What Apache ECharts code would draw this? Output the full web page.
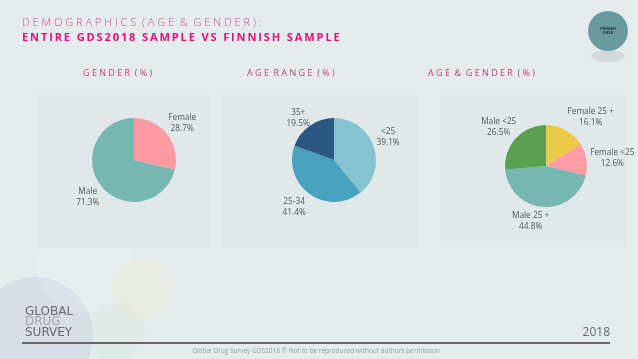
<!DOCTYPE html>
<html><head><meta charset="utf-8">
<script src="https://cdn.jsdelivr.net/npm/echarts@6/dist/echarts.min.js"></script>
<style>html,body{margin:0;padding:0;background:#e5ecee;}#c{width:638px;height:359px;}</style>
</head><body><div id="c"></div>
<script>
const genderCats = ['Female', 'Male'];
const genderVals = [28.7, 71.3];
const ageCats = ['<25', '25-34', '35+'];
const ageVals = [39.1, 41.4, 19.5];
const ageGenderCats = ['Female 25 +', 'Female <25', 'Male 25 +', 'Male <25'];
const ageGenderVals = [16.1, 12.6, 44.8, 26.5];

const genderColors = ['#fc9aa2', '#76b7b2'];
const ageColors = ['#85c3cf', '#48a2bf', '#2b5883'];
const agColors = ['#edc948', '#ff9da7', '#76b7b2', '#59a14f'];

const centers = [[134, 160], [334, 160], [546, 166]];
// fine label nudges (style only): [seriesIndex][dataIndex] -> [dx, dy]
const nudges = [[[0,0],[2,0]], [[-2,0],[-2,0],[2,5]], [[12,0],[9,6],[-3,0],[-2,0]]];

function mk(cats, vals, cols){ return cats.map((c,i)=>({name:c, value:vals[i], itemStyle:{color:cols[i]}})); }

const labelStyle = {
  show: true, position: 'outside', formatter: p => p.name + '\n' + p.value.toFixed(1) + '%',
  color: '#555', fontSize: 8.3, lineHeight: 11, fontFamily: 'Open Sans', overflow: 'none', bleedMargin: 0
};

function pieSeries(idx, r, data){
  return {
    type: 'pie', center: centers[idx], radius: r, startAngle: 90, clockwise: true,
    data: data, label: labelStyle, labelLine: {show: false, length: 8, length2: 4},
    emphasis: {disabled: true}, animation: false, silent: true,
    itemStyle: {borderWidth: 0},
    labelLayout: function(p){
      const r = p.labelRect;
      const ax = p.align === 'left' ? r.x : (p.align === 'right' ? r.x + r.width : r.x + r.width/2);
      const cy = r.y + r.height/2;
      const s = cy < centers[p.seriesIndex][1] ? -1 : 1;
      const n = nudges[p.seriesIndex][p.dataIndex];
      return {x: ax + n[0], y: cy + s*6 + n[1], align: 'center', verticalAlign: 'middle', hideOverlap: false};
    }
  };
}

function spaced(t){ return t.split('').join('\u2009'); }

const chart = echarts.init(document.getElementById('c'), null, {renderer: 'canvas'});
chart.setOption({
  backgroundColor: '#e5ecee',
  animation: false,
  graphic: [
    // decorative circles
    {type:'circle', shape:{cx:35, cy:335, r:58}, style:{fill:'rgba(195,195,215,0.35)'}, z:0},
    {type:'circle', shape:{cx:85, cy:265, r:48}, style:{fill:'rgba(255,255,255,0.12)'}, z:0},
    {type:'circle', shape:{cx:143, cy:290, r:31}, style:{fill:'rgba(240,235,200,0.3)'}, z:0},
    {type:'circle', shape:{cx:115, cy:332, r:30}, style:{fill:'rgba(210,230,215,0.25)'}, z:0},
    // panels
    {type:'rect', shape:{x:38, y:93, width:171, height:155}, style:{fill:'#e1e8ea'}, z:1},
    {type:'rect', shape:{x:222, y:93, width:195, height:155}, style:{fill:'#e1e8ea'}, z:1},
    {type:'rect', shape:{x:440, y:95, width:185, height:152}, style:{fill:'#e1e8ea'}, z:1},
    // titles
    {type:'text', x:22, y:17, style:{text:'D E M O G R A P H I C S  ( A G E  &  G E N D E R ) :', fill:'#d6488c', font:'300 11px "Open Sans"'}, z:5},
    {type:'text', x:22, y:32, style:{text:spaced('ENTIRE GDS2018 SAMPLE VS FINNISH SAMPLE'), fill:'#e2117a', font:'bold 11.1px "Open Sans"'}, z:5},
    {type:'text', x:83, y:69, style:{text:'G E N D E R  ( % )', fill:'#c63a7a', font:'9px "Open Sans"'}, z:5},
    {type:'text', x:247, y:69, style:{text:'A G E  R A N G E  ( % )', fill:'#c63a7a', font:'9px "Open Sans"'}, z:5},
    {type:'text', x:428, y:69, style:{text:'A G E  &  G E N D E R  ( % )', fill:'#c63a7a', font:'9px "Open Sans"'}, z:5},
    // badge
    {type:'ellipse', shape:{cx:608, cy:56, rx:17, ry:6}, style:{fill:'rgba(150,160,165,0.25)'}, z:4},
    {type:'circle', shape:{cx:608, cy:31, r:20}, style:{fill:'#6a9b9c'}, z:5},
    {type:'text', x:608, y:31, style:{text:'FINNISH\nDATA', fill:'#1e3436', font:'bold 4px sans-serif', align:'center', verticalAlign:'middle'}, z:6},
    // footer logo
    {type:'text', x:25, y:306, style:{text:'GLOBAL', fill:'#6a6a6a', font:'12px "DejaVu Sans"'}, z:5},
    {type:'text', x:25, y:316, style:{text:'DRUG', fill:'#a4a8ad', font:'12px "DejaVu Sans"'}, z:5},
    {type:'text', x:25, y:327, style:{text:'SURVEY', fill:'#6a6a6a', font:'12px "DejaVu Sans"'}, z:5},
    {type:'line', shape:{x1:22, y1:343, x2:610, y2:343}, style:{stroke:'#666', lineWidth:2}, z:5},
    {type:'text', x:610, y:327, style:{text:'2018', fill:'#666', font:'12px "Open Sans"', align:'right'}, z:5},
    {type:'text', x:316, y:348, style:{text:'Global Drug Survey GDS2018 \u00a9 Not to be reproduced without authors permission', fill:'#999', font:'6.5px "Open Sans"', align:'center'}, z:5}
  ],
  series: [
    pieSeries(0, 42, mk(genderCats, genderVals, genderColors)),
    pieSeries(1, 42, mk(ageCats, ageVals, ageColors)),
    pieSeries(2, 41, mk(ageGenderCats, ageGenderVals, agColors))
  ]
});
</script></body></html>
